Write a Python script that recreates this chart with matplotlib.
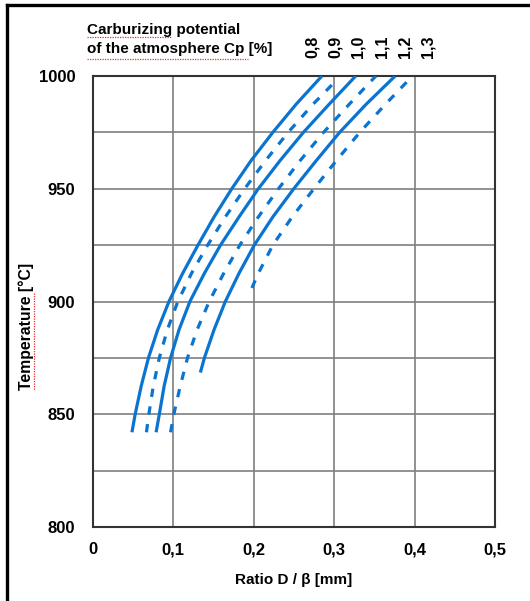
import numpy as np
from matplotlib import pyplot as plt
from matplotlib.lines import Line2D

plt.rcParams['font.family'] = ['Liberation Sans', 'DejaVu Sans']

# carburizing potential Cp [%] of each curve
cp_labels = ["0,8", "0,9", "1,0", "1,1", "1,2", "1,3"]

# temperature [°C] and ratio D/beta [mm]
T_08 = [842, 850, 862.5, 875, 887.5, 900, 912.5, 925, 937.5, 950, 962.5, 975, 987.5, 1000]
x_08 = [0.049, 0.053, 0.0605, 0.0695, 0.081, 0.095, 0.112, 0.131, 0.151, 0.173, 0.197, 0.224, 0.253, 0.285]

T_09 = [842, 850, 862.5, 875, 887.5, 900, 912.5, 925, 937.5, 950, 962.5, 975, 987.5, 997]
x_09 = [0.067, 0.070, 0.0755, 0.083, 0.093, 0.106, 0.123, 0.143, 0.165, 0.189, 0.215, 0.243, 0.274, 0.300]

T_10 = [842, 850, 862.5, 875, 887.5, 900, 912.5, 925, 937.5, 950, 962.5, 975, 987.5, 1000]
x_10 = [0.079, 0.083, 0.089, 0.097, 0.1075, 0.121, 0.139, 0.159, 0.182, 0.206, 0.233, 0.262, 0.294, 0.327]

T_11 = [842, 850, 862.5, 875, 887.5, 900, 912.5, 925, 937.5, 950, 962.5, 975, 987.5, 1000]
x_11 = [0.097, 0.101, 0.109, 0.118, 0.130, 0.145, 0.163, 0.183, 0.206, 0.231, 0.258, 0.287, 0.319, 0.352]

T_12 = [868.5, 875, 887.5, 900, 912.5, 925, 937.5, 950, 962.5, 975, 987.5, 1000]
x_12 = [0.134, 0.139, 0.151, 0.165, 0.182, 0.201, 0.224, 0.250, 0.278, 0.307, 0.340, 0.376]

T_13 = [906, 912.5, 925, 937.5, 950, 962.5, 975, 987.5, 1000]
x_13 = [0.198, 0.206, 0.224, 0.248, 0.275, 0.303, 0.332, 0.364, 0.3975]

curves = [(x_08, T_08), (x_09, T_09), (x_10, T_10),
          (x_11, T_11), (x_12, T_12), (x_13, T_13)]

xticks = [0, 0.1, 0.2, 0.3, 0.4, 0.5]
xticklabels = ["0", "0,1", "0,2", "0,3", "0,4", "0,5"]
yticks = [800, 850, 900, 950, 1000]

W, H = 530, 601
fig = plt.figure(figsize=(W / 100, H / 100), dpi=100)
ax = fig.add_axes([92.5 / W, 1 - 527 / H, (495 - 92.5) / W, (527 - 76) / H])

blue = "#0a74d0"
for i, (x, T) in enumerate(curves):
    if i % 2 == 0:
        ax.plot(x, T, color=blue, lw=2.3, solid_capstyle="butt",
                solid_joinstyle="round", zorder=3)
    else:
        ax.plot(x, T, color=blue, lw=2.3, linestyle=(0, (2.6, 3.0)),
                dash_capstyle="butt", zorder=3)

ax.set_xlim(0, 0.5)
ax.set_ylim(800, 1000)
ax.set_xticks(xticks)
ax.set_xticklabels(xticklabels, fontweight="bold", fontsize=12)
ax.set_yticks(yticks)
ax.set_yticklabels([str(v) for v in yticks], fontweight="bold", fontsize=12)
ax.set_yticks(np.arange(825, 1000, 50), minor=True)
ax.tick_params(axis="both", which="both", length=0)
ax.tick_params(axis="x", pad=11)
ax.tick_params(axis="y", pad=12.5)
ax.grid(True, which="both", color="#7f7f7f", lw=1.2)
ax.set_axisbelow(True)
for s in ax.spines.values():
    s.set_color("#333333")
    s.set_linewidth(1.5)

ax.set_xlabel("Ratio D / \u03b2 [mm]", fontweight="bold", fontsize=11, labelpad=11)
fig.text(26 / W, 1 - 326 / H, "Temperature [\u00b0C]", rotation=90,
         fontweight="bold", fontsize=11.3, ha="center", va="center")

fig.text(87 / W, 1 - 39.5 / H, "Carburizing potential\nof the atmosphere Cp [%]",
         fontweight="bold", fontsize=11, ha="left", va="center", linespacing=1.38)

for i, lab in enumerate(cp_labels):
    fig.text((312 + i * 23.2) / W, 1 - 58 / H, lab, rotation=90,
             fontweight="bold", fontsize=11.5, ha="center", va="bottom")

# spell-check squiggles seen in the source picture
red = dict(color="#e03030", lw=0.9, linestyle=(0, (1, 1)))
fig.add_artist(Line2D([87 / W, 171 / W], [1 - 37 / H, 1 - 37 / H], **red))
fig.add_artist(Line2D([87 / W, 248 / W], [1 - 59 / H, 1 - 59 / H], **red))
fig.add_artist(Line2D([34 / W, 34 / W], [1 - 293 / H, 1 - 390 / H], **red))

# outer frame (left and top edges)
fig.add_artist(Line2D([6.5 / W, 6.5 / W], [0, 1 - 5 / H], color="black", lw=2.4))
fig.add_artist(Line2D([6.5 / W, 1], [1 - 5 / H, 1 - 5 / H], color="black", lw=2.4))

fig.savefig("out.png", dpi=100)
